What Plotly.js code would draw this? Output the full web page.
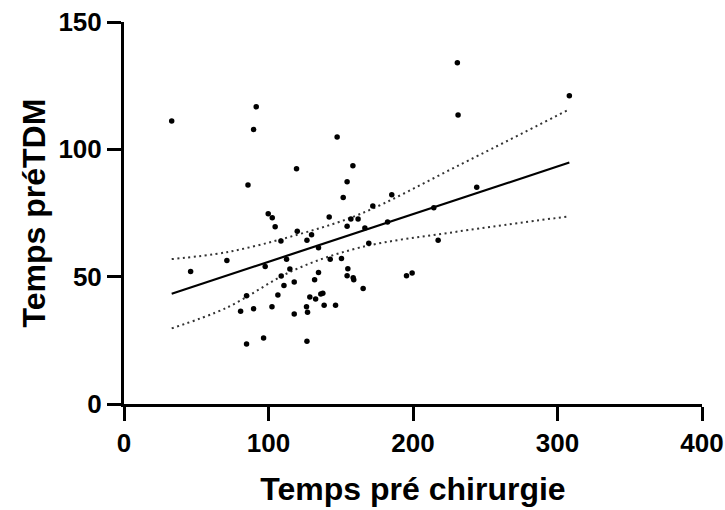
<!DOCTYPE html>
<html>
<head>
<meta charset="utf-8">
<script src="https://cdn.plot.ly/plotly-3.0.1.min.js"></script>
<style>html,body{margin:0;padding:0;background:#fff;}#chart{width:725px;height:510px;}</style>
</head>
<body>
<div id="chart"></div>
<script>
// Scatter data: Temps pré chirurgie (x) vs Temps préTDM (y)
const tempsPreChirurgie = [33, 91.5, 89.7, 119.4, 85.8, 99.8, 102.6, 104.6, 119.9, 129.8,
  126.6, 108.6, 71.2, 112.5, 46.1, 97.7, 114.8, 134.6, 134.6, 108.8,
  131.9, 110.7, 117.8, 136.2, 137.6, 84.8, 106.5, 128.6, 132.6, 80.7,
  89.7, 102.4, 117.8, 126.3, 127, 84.8, 96.6, 126.6, 230.7, 231.2,
  147.5, 158.4, 154.4, 151.7, 185.3, 172.2, 244.1, 142, 157, 162,
  214.4, 154.4, 166.7, 182.4, 169.4, 217.4, 142.7, 150.5, 154.9, 154.4,
  158.6, 159, 195.5, 199.4, 165.5, 138.5, 146.4, 308.2];
const tempsPreTDM = [111.1, 116.7, 107.8, 92.4, 86, 74.7, 73.1, 69.6, 67.8, 66.5,
  64.3, 64, 56.3, 56.8, 52, 54, 53, 61.4, 51.6, 50.3,
  48.8, 46.5, 47.9, 43.2, 43.5, 42.5, 42.8, 42, 41.2, 36.4,
  37.4, 38.2, 35.3, 38.2, 36, 23.6, 25.9, 24.6, 134, 113.5,
  104.8, 93.6, 87.3, 81.1, 82.2, 77.7, 85.1, 73.4, 72.6, 72.6,
  77.1, 69.8, 69.1, 71.5, 63.1, 64.3, 56.8, 57.1, 53.1, 50.4,
  49.6, 48.8, 50.4, 51.4, 45.4, 38.8, 38.8, 121];

// Regression line
const fitX = [33, 308.2];
const fitY = [43.3, 94.8];

// 95% confidence band
const bandX = [33, 71, 117, 163, 232, 308.2];
const bandUpper = [56.9, 59.6, 66.0, 74.5, 93.8, 115.7];
const bandLower = [29.7, 37.8, 52.4, 61.4, 67.8, 73.7];

// Axis ticks
const xTicks = [0, 100, 200, 300, 400];
const yTicks = [0, 50, 100, 150];

const FONT = 'Liberation Sans, Arial, Helvetica, sans-serif';
const dotted = {color: '#333', width: 2, dash: '2px,3.5px', shape: 'spline'};

const traces = [
  {x: bandX, y: bandUpper, type: 'scatter', mode: 'lines', line: dotted, hoverinfo: 'skip'},
  {x: bandX, y: bandLower, type: 'scatter', mode: 'lines', line: dotted, hoverinfo: 'skip'},
  {x: fitX, y: fitY, type: 'scatter', mode: 'lines', line: {color: '#000', width: 2.2}},
  {x: tempsPreChirurgie, y: tempsPreTDM, type: 'scatter', mode: 'markers',
   marker: {color: '#000', size: 5.5}}
];

const axisCommon = {
  showline: true, linewidth: 3, linecolor: '#000',
  ticks: 'outside', ticklen: 14, tickwidth: 3, tickcolor: '#000',
  showgrid: false, zeroline: false, tickmode: 'array',
  tickfont: {family: FONT, size: 26, color: '#000', weight: 'bold'}
};

const layout = {
  width: 725, height: 510,
  margin: {l: 124, r: 23, t: 22, b: 106},
  paper_bgcolor: '#fff', plot_bgcolor: '#fff',
  showlegend: false,
  xaxis: Object.assign({}, axisCommon, {
    range: [0, 400], tickvals: xTicks, ticktext: xTicks.map(String),
    title: {text: 'Temps pré chirurgie', standoff: 21,
            font: {family: FONT, size: 32, color: '#000', weight: 'bold'}}
  }),
  yaxis: Object.assign({}, axisCommon, {
    range: [0, 150], tickvals: yTicks, ticktext: yTicks.map(String),
    title: {text: 'Temps préTDM', standoff: 4,
            font: {family: FONT, size: 32, color: '#000', weight: 'bold'}}
  })
};

Plotly.newPlot('chart', traces, layout, {displayModeBar: false, staticPlot: true});
</script>
</body>
</html>
